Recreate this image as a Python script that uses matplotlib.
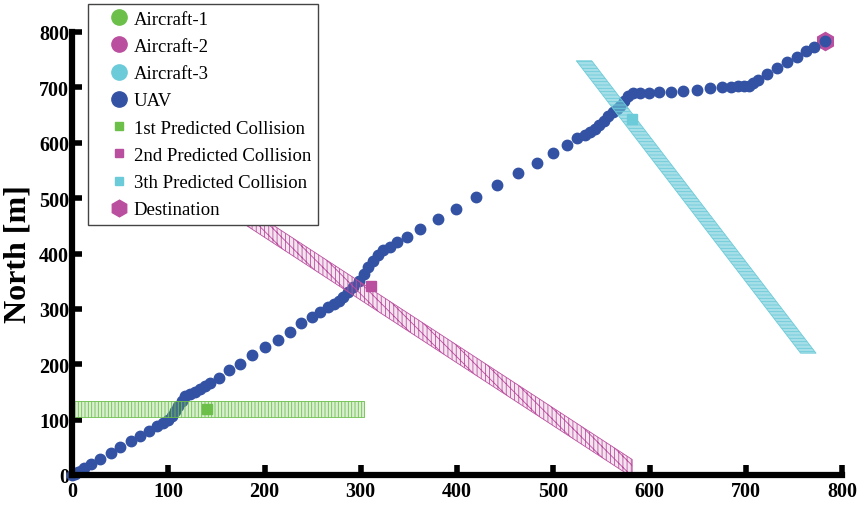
import matplotlib
matplotlib.use("Agg")
import matplotlib.pyplot as plt
from matplotlib.lines import Line2D
import numpy as np

plt.rcParams['font.family'] = ['Liberation Serif', 'DejaVu Serif']
plt.rcParams['hatch.linewidth'] = 0.6

# UAV track (East, North) in metres
uav_e = [0, 3, 6, 9, 12, 20, 29, 40, 50, 61, 71, 80, 88, 95, 100, 104, 107, 110, 114, 117,
         123, 128, 133, 138, 143, 153, 163, 175, 187, 201, 214, 226, 238, 249, 258, 266,
         272, 277, 282, 287, 292, 298, 303, 308, 313, 318, 323, 330, 338, 348, 362, 380,
         399, 420, 442, 463, 483, 500, 514, 525, 533, 538, 543, 548, 553, 557, 562, 566,
         569, 574, 578, 583, 590, 599, 610, 622, 635, 649, 663, 675, 685, 692, 698, 703,
         708, 713, 722, 732, 743, 753, 763, 771, 782]
uav_n = [0, 2, 5, 8, 12, 20, 29, 40, 50, 61, 70, 80, 89, 94, 100, 106, 116, 125, 134, 142,
         146, 150, 155, 161, 166, 176, 189, 201, 217, 231, 244, 259, 274, 286, 295, 304,
         309, 314, 321, 330, 340, 351, 363, 375, 387, 398, 406, 411, 420, 430, 445, 462,
         481, 502, 524, 545, 564, 582, 596, 608, 614, 619, 625, 632, 640, 648, 655, 661,
         667, 676, 685, 689, 690, 690, 691, 692, 694, 696, 698, 700, 701, 702, 702, 703,
         707, 713, 724, 735, 745, 755, 766, 773, 784]

# intruder aircraft tracks: start / end of each straight path and band half width
ac1_e = [-3, 303]
ac1_n = [119, 119]
ac2_e = [150, 582]
ac2_n = [502, 12]
ac3_e = [532, 765]
ac3_n = [748, 220]
band_hw = [14, 16, 8]

# predicted collisions and destination
coll_e = [140, 311, 582]
coll_n = [119, 342, 642]
dest = (782, 784)

green = '#6cc04a'
magenta = '#bb4f9f'
cyan = '#6ccbd9'
blue = '#3452a4'
coll_colors = [green, magenta, cyan]

fig = plt.figure(figsize=(8.64, 5.1), dpi=100)
ax = fig.add_axes([72 / 864, 34 / 510, 770 / 864, 443 / 510])
ax.set_xlim(0, 800)
ax.set_ylim(0, 800)

ax.plot(dest[0], dest[1], 'h', color=magenta, ms=13, zorder=2, clip_on=False)
ax.plot(uav_e, uav_n, 'o', color=blue, ms=7.5, mec=blue, zorder=3, clip_on=False)

e1 = np.array(ac1_e); n1 = np.array(ac1_n)
ax.fill_between(e1, n1 - band_hw[0], n1 + band_hw[0], facecolor=green, alpha=0.25,
                edgecolor='none', zorder=4, clip_on=False)
ax.fill_between(e1, n1 - band_hw[0], n1 + band_hw[0], facecolor='none', hatch='|||||',
                edgecolor=green, lw=0.6, zorder=4, clip_on=False)

e2 = np.array(ac2_e); n2 = np.array(ac2_n)
ax.fill_between(e2, n2 - band_hw[1], n2 + band_hw[1], facecolor=magenta, alpha=0.15,
                edgecolor='none', zorder=4)
ax.fill_between(e2, n2 - band_hw[1], n2 + band_hw[1], facecolor='none', hatch='||||\\\\\\',
                edgecolor=magenta, lw=0.6, zorder=4)

e3 = np.array(ac3_e); n3 = np.array(ac3_n)
ax.fill_betweenx(n3, e3 - band_hw[2], e3 + band_hw[2], facecolor=cyan, alpha=0.6,
                 edgecolor='none', zorder=4)
ax.fill_betweenx(n3, e3 - band_hw[2], e3 + band_hw[2], facecolor='none', hatch='-----',
                 edgecolor=cyan, lw=0.6, zorder=4)

for e, n, c in zip(coll_e, coll_n, coll_colors):
    ax.plot(e, n, 's', color=c, ms=7, zorder=5)

ax.set_xticks(range(0, 801, 100))
ax.set_yticks(range(0, 801, 100))
for s in ['top', 'right']:
    ax.spines[s].set_visible(False)
for s in ['left', 'bottom']:
    ax.spines[s].set_linewidth(4.5)
    ax.spines[s].set_zorder(6)
ax.tick_params(direction='in', length=7, width=4, labelsize=14.5)
ax.tick_params(axis='x', pad=4)
ax.tick_params(axis='y', pad=2)
for lab in ax.get_xticklabels() + ax.get_yticklabels():
    lab.set_fontweight('bold')
ax.set_ylabel('North [m]', fontsize=23, fontweight='bold', labelpad=5)

handles = [
    Line2D([], [], ls='none', marker='o', ms=11, color=green),
    Line2D([], [], ls='none', marker='o', ms=11, color=magenta),
    Line2D([], [], ls='none', marker='o', ms=11, color=cyan),
    Line2D([], [], ls='none', marker='o', ms=11, color=blue),
    Line2D([], [], ls='none', marker='s', ms=6, color=green),
    Line2D([], [], ls='none', marker='s', ms=6, color=magenta),
    Line2D([], [], ls='none', marker='s', ms=6, color=cyan),
    Line2D([], [], ls='none', marker='h', ms=12, color=magenta),
]
labels = ['Aircraft-1', 'Aircraft-2', 'Aircraft-3', 'UAV', '1st Predicted Collision',
          '2nd Predicted Collision', '3th Predicted Collision', 'Destination']
leg = fig.legend(handles, labels, loc='upper left', bbox_to_anchor=(88 / 864, 1 - 5 / 510),
                 fontsize=13.5, frameon=True, fancybox=False, edgecolor='#444444',
                 framealpha=1, labelspacing=0.54, handletextpad=-0.5, borderpad=0.35,
                 handlelength=2.6, borderaxespad=0)
leg.get_frame().set_linewidth(1.0)
leg.set_zorder(10)

fig.savefig('out.png', dpi=100)
